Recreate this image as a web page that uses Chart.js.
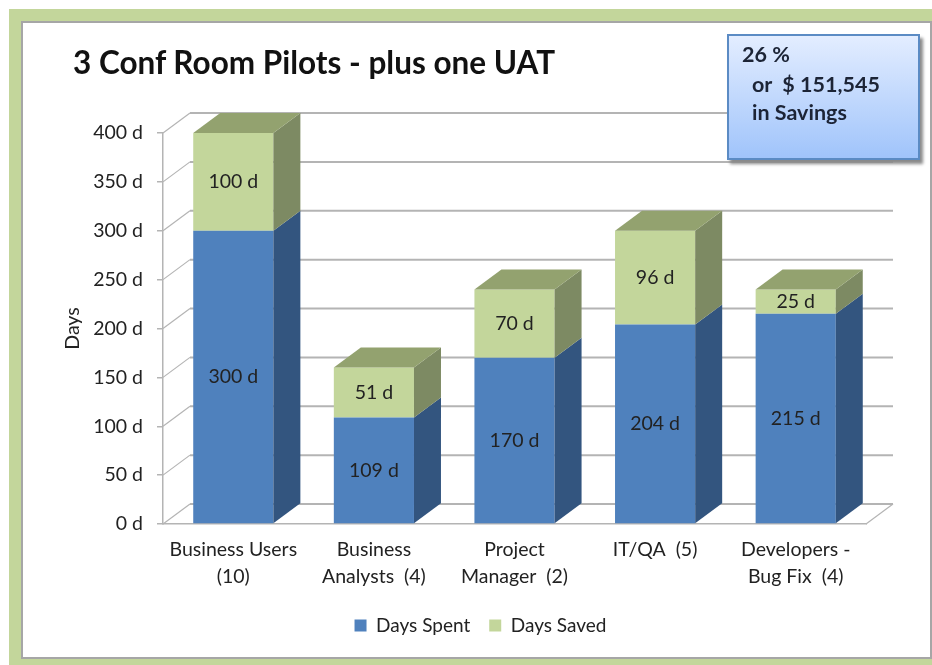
<!DOCTYPE html>
<html>
<head>
<meta charset="utf-8">
<title>3 Conf Room Pilots - plus one UAT</title>
<script src="https://cdn.jsdelivr.net/npm/chart.js@4/dist/chart.umd.min.js"></script>
<style>
html, body { margin: 0; padding: 0; background: #fff; }
#wrap { position: relative; width: 932px; height: 665px; overflow: hidden; font-family: Lato, sans-serif; filter: blur(0.45px); }
canvas { position: absolute; left: 0; top: 0; }
#title { position: absolute; left: 73px; top: 43px; font-size: 31.5px; font-weight: bold; color: #111; white-space: nowrap; }
#note { position: absolute; left: 727px; top: 34px; width: 189px; height: 122px; border: 2px solid #5b8bc4;
        background: linear-gradient(#e3edff, #a0c4fb); box-shadow: 3px 4px 3px #8a8a8a; }
#note div { position: absolute; font-size: 21.5px; font-weight: bold; color: #1c2436; white-space: nowrap; }
</style>
</head>
<body>
<div id="wrap">
  <canvas id="chart" width="932" height="665"></canvas>
  <div id="title">3 Conf Room Pilots - plus one UAT</div>
  <div id="note">
    <div style="left:13px;top:5px">26 %</div>
    <div style="left:23px;top:35px">or&nbsp; $ 151,545</div>
    <div style="left:23px;top:63px">in Savings</div>
  </div>
</div>
<script>
var categories = [['Business Users', '(10)'], ['Business', 'Analysts  (4)'], ['Project', 'Manager  (2)'], ['IT/QA  (5)'], ['Developers -', 'Bug Fix  (4)']];
var daysSpent = [300, 109, 170, 204, 215];
var daysSaved = [100, 51, 70, 96, 25];
var tickStep = 50;
var tickMax = 400;

var DX = 27, DY = 20;
var GRID = '#b4b4b4';
var TEXT = '#222';
var FONT = 'Lato, sans-serif';

// green frame and white panel behind everything
var framePlugin = {
    id: 'frame',
    beforeDraw: function(chart){
        var c = chart.ctx;
        c.save();
        c.fillStyle = '#fff';
        c.fillRect(0, 0, 932, 665);
        c.fillStyle = '#c3d69b';
        c.fillRect(9, 9, 923, 656);
        c.fillStyle = '#a6a6a6';
        c.fillRect(21, 21, 911, 638);
        c.fillStyle = '#fff';
        c.fillRect(23, 23, 907, 634);
        c.restore();
    }
};

// the legend sits centred on the page, not on the plot
var legendShiftPlugin = {
    id: 'legendShift',
    afterLayout: function(chart){
        chart.legend.left += 17;
        chart.legend.right += 17;
    }
};

// back wall grid, floor and side walls of the fake 3D box
var wallPlugin = {
    id: 'wall',
    beforeDatasetsDraw: function(chart){
        var c = chart.ctx, y = chart.scales.y, a = chart.chartArea;
        c.save();
        c.strokeStyle = GRID;
        y.ticks.forEach(function(t){
            var py = y.getPixelForValue(t.value);
            c.lineWidth = 1.2;
            c.beginPath();
            c.moveTo(a.left, py);
            c.lineTo(a.left + DX, py - DY);
            c.stroke();
            c.lineWidth = 2;
            c.beginPath();
            c.moveTo(a.left + DX, py - DY);
            c.lineTo(a.right + DX, py - DY);
            c.stroke();
        });
        c.lineWidth = 1.2;
        c.beginPath();
        c.moveTo(a.right, a.bottom);
        c.lineTo(a.right + DX, a.bottom - DY);
        c.stroke();
        c.restore();
    }
};

function face(c, pts, color){
    c.fillStyle = color;
    c.beginPath();
    c.moveTo(pts[0][0], pts[0][1]);
    for(var i = 1; i < pts.length; i++){
        c.lineTo(pts[i][0], pts[i][1]);
    }
    c.closePath();
    c.fill();
}

// side and top faces, taken from the bars the library laid out
var boxPlugin = {
    id: 'box',
    afterDatasetsDraw: function(chart){
        var c = chart.ctx;
        c.save();
        chart.data.datasets.forEach(function(ds, d){
            chart.getDatasetMeta(d).data.forEach(function(bar){
                var p = bar.getProps(['x', 'y', 'base', 'width'], true);
                var l = p.x - p.width / 2, r = p.x + p.width / 2;
                face(c, [[r, p.y], [r + DX, p.y - DY], [r + DX, p.base - DY], [r, p.base]], ds.sideColor);
                if(d == chart.data.datasets.length - 1){
                    face(c, [[l, p.y], [l + DX, p.y - DY], [r + DX, p.y - DY], [r, p.y]], ds.topColor);
                }
            });
        });
        c.restore();
    },
    afterDraw: function(chart){
        var c = chart.ctx;
        c.save();
        c.font = '19.5px ' + FONT;
        c.fillStyle = TEXT;
        c.textAlign = 'center';
        c.textBaseline = 'middle';
        chart.data.datasets.forEach(function(ds, d){
            chart.getDatasetMeta(d).data.forEach(function(bar, i){
                var p = bar.getProps(['x', 'y', 'base'], true);
                c.fillText(ds.data[i] + ' d', p.x, (p.y + p.base) / 2);
            });
        });
        c.restore();
    }
};

new Chart(document.getElementById('chart'), {
    type: 'bar',
    data: {
        labels: categories,
        datasets: [
            {label: 'Days Spent', data: daysSpent, backgroundColor: '#4f81bd', sideColor: '#33557f', topColor: '#3f6797'},
            {label: 'Days Saved', data: daysSaved, backgroundColor: '#c3d69b', sideColor: '#7d8a63', topColor: '#93a26f'}
        ]
    },
    options: {
        responsive: false,
        animation: false,
        layout: {padding: {left: 61, right: 66, top: 133, bottom: 20}},
        datasets: {bar: {barPercentage: 0.57, categoryPercentage: 1}},
        plugins: {
            tooltip: {enabled: false},
            legend: {
                position: 'bottom',
                labels: {boxWidth: 12, boxHeight: 12, padding: 19, color: TEXT, font: {family: FONT, size: 19}}
            }
        },
        scales: {
            x: {
                stacked: true,
                afterFit: function(scale){ scale.height = 73; },
                grid: {display: true, drawOnChartArea: false, drawTicks: false},
                border: {color: GRID, width: 1.5},
                ticks: {color: TEXT, padding: 12, maxRotation: 0, font: {family: FONT, size: 19.5, lineHeight: 1.38}}
            },
            y: {
                stacked: true,
                min: 0,
                max: tickMax,
                afterFit: function(scale){ scale.width = 102; },
                title: {display: true, text: 'Days', color: TEXT, padding: 0, font: {family: FONT, size: 19.5}},
                grid: {drawOnChartArea: false, tickLength: 6, color: GRID, lineWidth: 1.5},
                border: {color: GRID, width: 1.5},
                ticks: {
                    stepSize: tickStep,
                    color: TEXT,
                    padding: 14,
                    font: {family: FONT, size: 19.5},
                    callback: function(v){ return v + ' d'; }
                }
            }
        }
    },
    plugins: [framePlugin, legendShiftPlugin, wallPlugin, boxPlugin]
});
</script>
</body>
</html>
